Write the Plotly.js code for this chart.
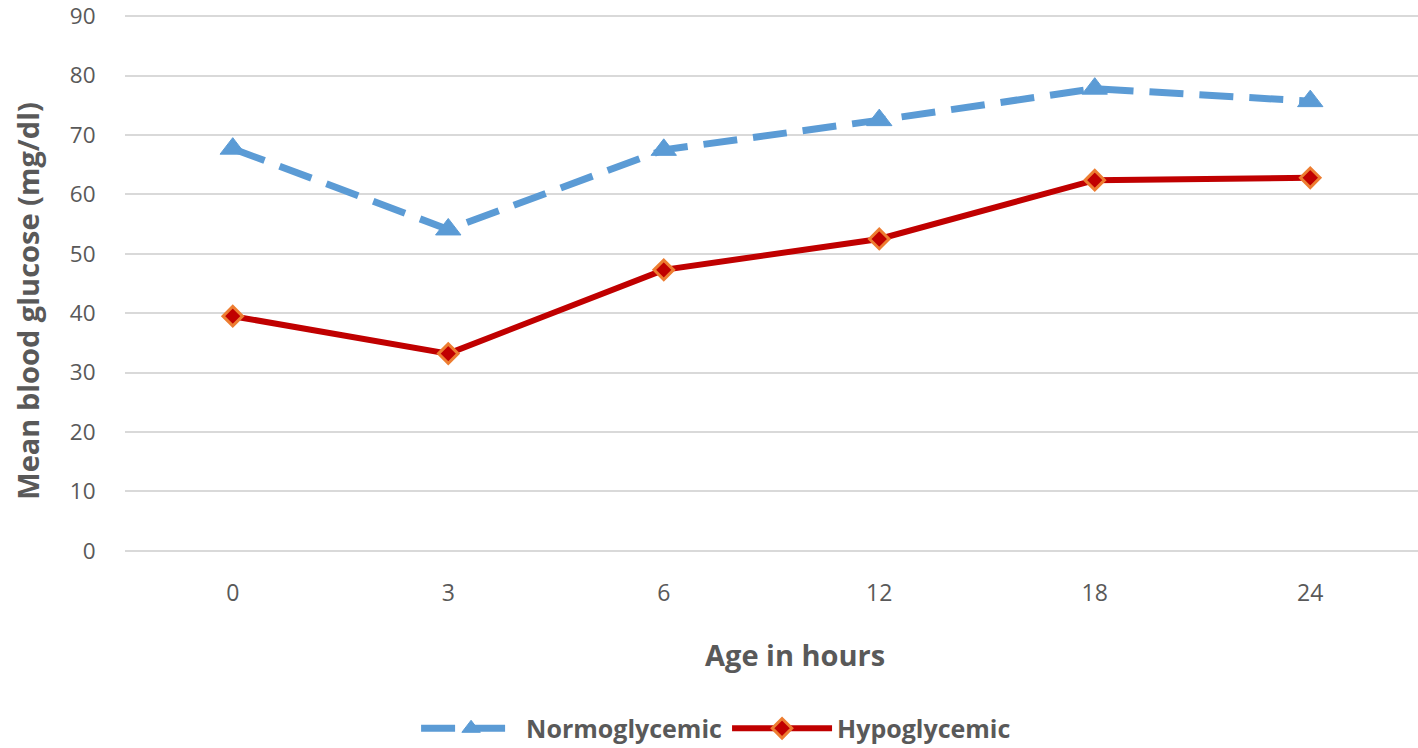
<!DOCTYPE html>
<html>
<head>
<meta charset="utf-8">
<script src="https://cdn.plot.ly/plotly-3.0.1.min.js"></script>
<style>html,body{margin:0;padding:0;background:#fff;}#chart{width:1418px;height:748px;}</style>
</head>
<body>
<div id="chart"></div>
<script>
const hours = ["0", "3", "6", "12", "18", "24"];
const normoglycemic = [67.7, 54.1, 67.5, 72.5, 77.8, 75.7];
const hypoglycemic = [39.5, 33.2, 47.3, 52.5, 62.4, 62.8];
const yTicks = [0, 10, 20, 30, 40, 50, 60, 70, 80, 90];
const xTitle = "Age in hours";
const yTitle = "Mean blood glucose (mg/dl)";

const FONT = "'Open Sans', Lato, sans-serif";
const GREY = "#595959";

const traces = [
  {
    x: hours, y: normoglycemic, name: "Normoglycemic", type: "scatter", mode: "lines+markers",
    line: {color: "#5B9BD5", width: 7, dash: "34px,16px"},
    marker: {symbol: "triangle-up", size: 22, color: "#5B9BD5", line: {color: "#5B9BD5", width: 1}}
  },
  {
    x: hours, y: hypoglycemic, name: "Hypoglycemic", type: "scatter", mode: "lines+markers",
    line: {color: "#C00000", width: 6},
    marker: {symbol: "diamond", size: 15, color: "#C00000", line: {color: "#ED7D31", width: 3}}
  }
];

const titleFont = {family: FONT, size: 29, color: GREY, weight: "bold"};

const layout = {
  width: 1418, height: 748,
  margin: {l: 125, r: 0, t: 15, b: 196},
  paper_bgcolor: "#fff", plot_bgcolor: "#fff",
  font: {family: FONT, color: GREY},
  showlegend: true,
  legend: {
    orientation: "h", xref: "container", yref: "container",
    x: 0.505, xanchor: "center", y: 0.026, yanchor: "middle",
    font: {family: FONT, size: 25, color: GREY, weight: "bold"},
    itemwidth: 100, tracegroupgap: 0
  },
  xaxis: {
    type: "category", range: [-0.5, 5.5],
    showgrid: false, zeroline: false, showline: false,
    ticks: "outside", ticklen: 20, tickcolor: "rgba(0,0,0,0)",
    tickfont: {family: FONT, size: 23, color: GREY},
    automargin: false
  },
  yaxis: {
    range: [-0.2, 90.2], tickvals: yTicks,
    showgrid: true, gridcolor: "#D9D9D9", gridwidth: 2,
    zeroline: false, showline: false,
    ticks: "outside", ticklen: 24, tickcolor: "rgba(0,0,0,0)",
    ticklabeloverflow: "allow",
    tickfont: {family: FONT, size: 22.5, color: GREY},
    automargin: false
  },
  annotations: [
    {text: xTitle, xref: "paper", yref: "paper", x: 0.518, y: -0.19,
     xanchor: "center", yanchor: "middle", showarrow: false, font: titleFont},
    {text: yTitle, xref: "paper", yref: "paper", x: -0.075, y: 0.468, textangle: -90,
     xanchor: "center", yanchor: "middle", showarrow: false, font: titleFont}
  ]
};

Plotly.newPlot("chart", traces, layout, {displayModeBar: false, staticPlot: true});
</script>
</body>
</html>
